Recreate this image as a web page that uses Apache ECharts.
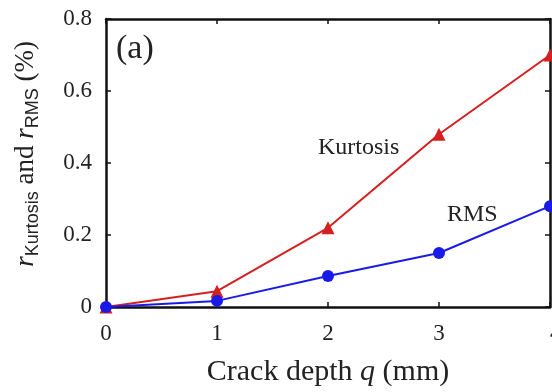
<!DOCTYPE html>
<html>
<head>
<meta charset="utf-8">
<script src="https://cdn.jsdelivr.net/npm/echarts@6/dist/echarts.min.js"></script>
<style>
  html, body { margin: 0; padding: 0; background: #fff; }
  #chart { width: 552px; height: 392px; }
</style>
</head>
<body>
<div id="chart"></div>
<script>
// Crack depth q (mm)
const crackDepth = [0, 1, 2, 3, 4];
// Relative change of the kurtosis indicator (%)
const kurtosis = [0, 0.044, 0.22, 0.48, 0.70];
// Relative change of the RMS indicator (%)
const rms = [0, 0.017, 0.086, 0.15, 0.28];
const xTicks = [0, 1, 2, 3, 4];
const yTicks = [0, 0.2, 0.4, 0.6, 0.8];

const serif = '"Liberation Serif", "DejaVu Serif", serif';
const chart = echarts.init(document.getElementById('chart'));

const frameLine = { show: true, onZero: false, lineStyle: { color: '#111', width: 2.5 } };
const inTick = { show: true, inside: true, length: 5, lineStyle: { color: '#111', width: 1.5 } };

chart.setOption({
  animation: false,
  backgroundColor: '#fff',
  grid: { left: 106, right: 2, top: 19, bottom: 85, containLabel: false, outerBoundsMode: 'none' },
  xAxis: [
    {
      type: 'value', min: 0, max: 4, interval: 1,
      axisLine: frameLine, axisTick: inTick, splitLine: { show: false },
      axisLabel: { fontFamily: serif, fontSize: 23, color: '#222', margin: 15,
        alignMaxLabel: 'left',
        formatter: v => xTicks.includes(v) ? String(v) : '' },
      name: '{t|Crack depth }{i|q}{t| (mm)}',
      nameLocation: 'middle', nameGap: 50,
      nameTextStyle: { rich: {
        t: { fontFamily: serif, fontSize: 30, color: '#222' },
        i: { fontFamily: serif, fontSize: 30, color: '#222', fontStyle: 'italic' }
      } }
    },
    {
      type: 'value', position: 'top', min: 0, max: 4, interval: 1,
      axisLine: frameLine, axisTick: inTick, axisLabel: { show: false }, splitLine: { show: false }
    }
  ],
  yAxis: [
    {
      type: 'value', min: 0, max: 0.8, interval: 0.2,
      axisLine: frameLine, axisTick: inTick, splitLine: { show: false },
      axisLabel: { fontFamily: serif, fontSize: 23, color: '#222', margin: 14,
        formatter: v => {
          const t = yTicks.find(y => Math.abs(y - v) < 1e-9);
          return t === undefined ? '' : (t === 0 ? '0' : t.toFixed(1));
        } },
      name: '{i|r}{s|Kurtosis}{t| and }{i|r}{s|RMS}{t| (%)}',
      nameLocation: 'middle', nameRotate: 90, nameGap: 64,
      nameTextStyle: { padding: [0, 0, 0, 18], rich: {
        t: { fontFamily: serif, fontSize: 27, color: '#222' },
        i: { fontFamily: serif, fontSize: 27, color: '#222', fontStyle: 'italic' },
        s: { fontFamily: '"Liberation Sans", Arial, sans-serif', fontSize: 18, color: '#222', verticalAlign: 'bottom', padding: [14, 0, 0, 0] }
      } }
    },
    {
      type: 'value', position: 'right', min: 0, max: 0.8, interval: 0.2,
      axisLine: frameLine, axisTick: inTick, axisLabel: { show: false }, splitLine: { show: false }
    }
  ],
  series: [
    {
      name: 'Kurtosis', type: 'line',
      data: crackDepth.map((q, i) => [q, kurtosis[i]]),
      symbol: 'triangle', symbolSize: 13,
      lineStyle: { color: '#d42020', width: 2 },
      itemStyle: { color: '#d42020' },
      z: 3
    },
    {
      name: 'RMS', type: 'line',
      data: crackDepth.map((q, i) => [q, rms[i]]),
      symbol: 'circle', symbolSize: 12,
      lineStyle: { color: '#1a1ae6', width: 2 },
      itemStyle: { color: '#1a1ae6' },
      z: 4
    }
  ],
  graphic: [
    { type: 'text', left: 116, top: 32,
      style: { text: '(a)', font: '34px ' + serif, fill: '#222' } },
    { type: 'text', left: 318, top: 136,
      style: { text: 'Kurtosis', font: '24px ' + serif, fill: '#222' } },
    { type: 'text', left: 447, top: 203,
      style: { text: 'RMS', font: '24px ' + serif, fill: '#222' } }
  ]
});
</script>
</body>
</html>
